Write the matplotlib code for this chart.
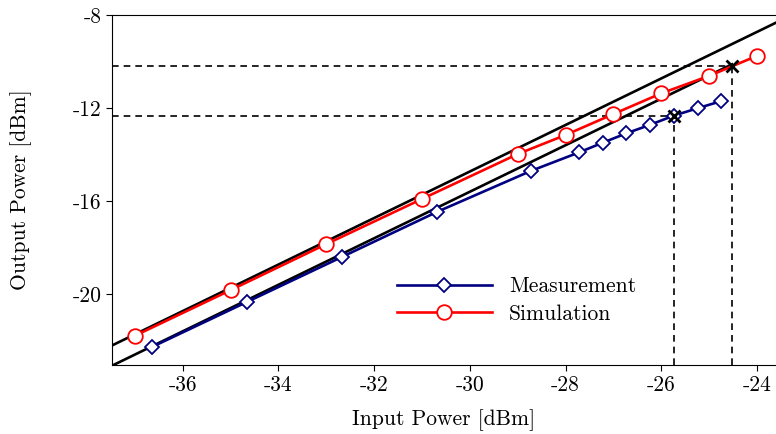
import matplotlib
matplotlib.use("Agg")
import matplotlib.pyplot as plt
import numpy as np

plt.rcParams['font.family'] = 'cmr10'
plt.rcParams['axes.unicode_minus'] = False
plt.rcParams['axes.formatter.use_mathtext'] = False

# measured output power vs input power
meas_in = [-36.65, -34.65, -32.67, -30.69, -28.73, -27.72, -27.22, -26.73, -26.23, -25.74, -25.24, -24.74]
meas_out = [-22.28, -20.33, -18.40, -16.47, -14.71, -13.91, -13.49, -13.09, -12.72, -12.33, -12.01, -11.70]

# simulated output power vs input power
sim_in = [-37, -35, -33, -31, -29, -28, -27, -26, -25, -24]
sim_out = [-21.79, -19.83, -17.85, -15.91, -13.98, -13.16, -12.26, -11.37, -10.62, -9.76]

# linear (small-signal) gains of the two reference lines
gain_sim = 15.27
gain_meas = 14.4

# 1 dB compression points (input, output)
p1db_sim = (-24.52, -10.18)
p1db_meas = (-25.74, -12.33)

xticks = [-36, -34, -32, -30, -28, -26, -24]
yticks = [-8, -12, -16, -20]
xlim = (-37.48, -23.6)
ylim = (-23.05, -8)

fig = plt.figure(figsize=(7.76, 4.34), dpi=100)
ax = fig.add_axes([112/776, 69/434, 664/776, 350/434])

# reference lines with slope 1
xs = np.array([xlim[0], xlim[1]])
ax.plot(xs, xs + gain_sim, color='black', lw=1.9, zorder=2)
xm = np.array([xlim[0], p1db_sim[0]])
ax.plot(xm, xm + gain_meas, color='black', lw=1.9, zorder=2)

# dashed guides to the compression points
for px, py in [p1db_sim, p1db_meas]:
    ax.plot([xlim[0], px], [py, py], color='black', lw=1.2, ls=(0, (4, 3)), zorder=1)
    ax.plot([px, px], [ylim[0], py], color='black', lw=1.2, ls=(0, (4, 3)), zorder=1)

ax.plot(meas_in, meas_out, color='#000080', lw=1.9, marker='D', ms=7.5,
        mfc='white', mec='#000080', mew=1.3, label='Measurement', zorder=3)
ax.plot(sim_in, sim_out, color='red', lw=1.9, marker='o', ms=10.5,
        mfc='white', mec='red', mew=1.3, label='Simulation', zorder=3)

ax.plot([p1db_sim[0], p1db_meas[0]], [p1db_sim[1], p1db_meas[1]], ls='none',
        marker='x', ms=8, mew=2, color='black', zorder=4)

ax.set_xlim(*xlim)
ax.set_ylim(*ylim)
ax.set_xticks(xticks)
ax.set_yticks(yticks)
ax.tick_params(direction='out', length=4, labelsize=15.5)
ax.spines['right'].set_visible(False)
ax.set_xlabel('Input Power [dBm]', fontsize=15.5, labelpad=10)
ax.set_ylabel('Output Power [dBm]', fontsize=15.5, labelpad=29)

ax.legend(loc='center left', bbox_to_anchor=(0.4, 0.185), frameon=False,
          fontsize=15.5, handlelength=4.4, handletextpad=0.8, labelspacing=0.35)

fig.savefig('out.png', dpi=100)
